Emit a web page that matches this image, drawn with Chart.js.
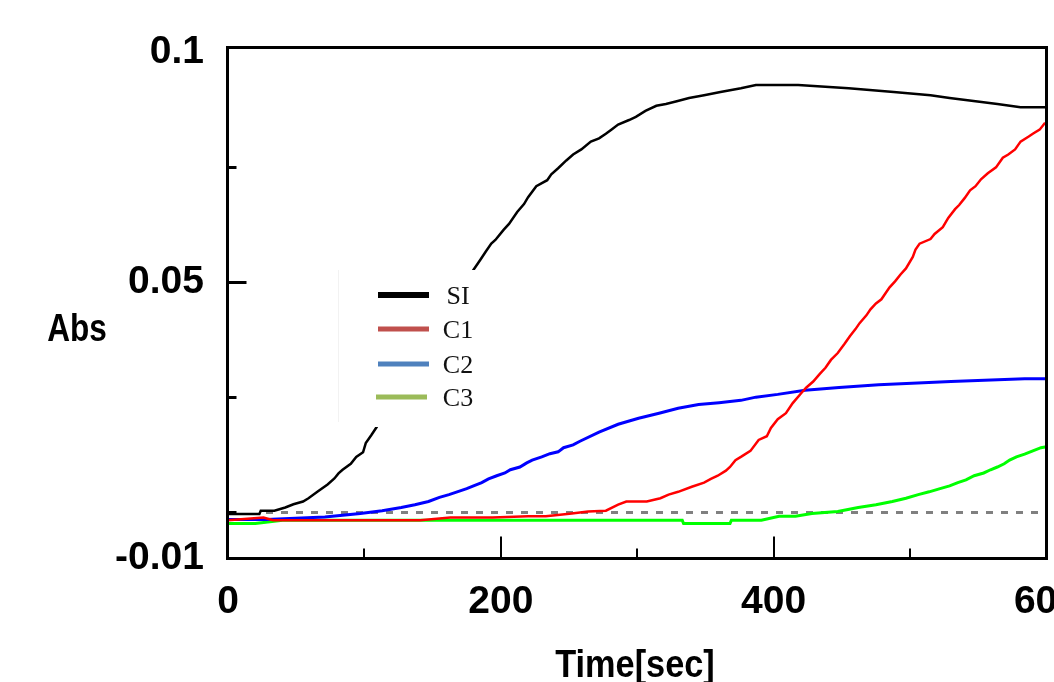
<!DOCTYPE html>
<html>
<head>
<meta charset="utf-8">
<script src="https://cdn.jsdelivr.net/npm/chart.js@4.4.0/dist/chart.umd.min.js"></script>
<style>
  html, body { margin: 0; padding: 0; background: #fff; overflow: hidden; }
  #wrap { width: 1100px; height: 682px; }
</style>
</head>
<body>
<div id="wrap"><canvas id="absChart" width="1100" height="682"></canvas></div>
<script>
// readings taken off the plot: time in sec, absorbance
const siTime = [0, 23, 24, 34, 42, 48, 55, 59, 66, 73, 78, 81, 84, 90, 94, 99, 101, 105, 109, 179,
  185, 189, 193, 196, 202, 206, 212, 217, 220, 226, 234, 237, 242, 248, 253, 259, 266, 272, 277, 281,
  286, 294, 299, 306, 314, 321, 329, 338, 349, 361, 376, 387, 418, 455, 488, 515, 529, 548, 564, 581, 600];
const siAbs = [-0.0004, -0.0004, 0.0003, 0.0003, 0.001, 0.0017, 0.0023, 0.003, 0.0045, 0.006, 0.0073, 0.0084, 0.0092, 0.0105, 0.012, 0.013, 0.015, 0.0167, 0.0185, 0.0523,
  0.0549, 0.0567, 0.0584, 0.0592, 0.0614, 0.0627, 0.0653, 0.067, 0.0685, 0.0709, 0.0722, 0.0735, 0.0748, 0.0765, 0.0778, 0.0789, 0.0806, 0.0813, 0.0823, 0.0832,
  0.0843, 0.0853, 0.086, 0.0873, 0.0884, 0.0888, 0.0894, 0.0901, 0.0907, 0.0914, 0.0922, 0.0929, 0.0929, 0.0922, 0.0914, 0.0907, 0.0901, 0.0894, 0.0888, 0.0881, 0.0881];

const c1Time = [0, 26, 33, 100, 141, 163, 194, 220, 233, 252, 264, 277, 286, 292, 307, 317, 323, 330, 340, 349,
  354, 359, 365, 368, 372, 376, 383, 389, 395, 398, 403, 409, 414, 420, 424, 429, 434, 438, 442, 447,
  452, 456, 460, 463, 468, 471, 475, 479, 482, 485, 489, 493, 497, 502, 504, 507, 515, 518, 524, 528,
  533, 536, 540, 544, 548, 552, 557, 563, 568, 572, 577, 581, 587, 590, 595, 599];
const c1Abs = [-0.0018, -0.0012, -0.0018, -0.0018, -0.0018, -0.0012, -0.0012, -0.0009, -0.0009, -0.0003, 0.0001, 0.0003, 0.0016, 0.0023, 0.0023, 0.003, 0.0038, 0.0044, 0.0055, 0.0064,
  0.0072, 0.0079, 0.009, 0.0098, 0.0113, 0.012, 0.0133, 0.0157, 0.0165, 0.0183, 0.0202, 0.0215, 0.0237, 0.0258, 0.0271, 0.0284, 0.0301, 0.0314, 0.0331, 0.0346,
  0.0366, 0.0383, 0.0398, 0.0411, 0.0428, 0.0441, 0.0454, 0.0463, 0.0476, 0.0489, 0.0502, 0.0517, 0.053, 0.0555, 0.0571, 0.0584, 0.0594, 0.0605, 0.062, 0.064,
  0.0659, 0.0668, 0.0683, 0.07, 0.0709, 0.0724, 0.0737, 0.075, 0.0771, 0.0778, 0.0789, 0.0806, 0.0817, 0.0823, 0.0832, 0.0847];

const c2Time = [0, 28, 71, 97, 113, 127, 137, 147, 155, 162, 168, 175, 180, 186, 191, 197, 203, 207, 214, 219,
  223, 230, 236, 242, 246, 253, 258, 272, 286, 301, 316, 330, 345, 360, 376, 387, 403, 423, 448, 477, 530, 584, 600];
const c2Abs = [-0.0016, -0.0016, -0.0011, -0.0003, 0.0003, 0.001, 0.0016, 0.0023, 0.0032, 0.0038, 0.0044, 0.0051, 0.0057, 0.0064, 0.0072, 0.0079, 0.0085, 0.0092, 0.0098, 0.0107,
  0.0113, 0.012, 0.0127, 0.0131, 0.014, 0.0146, 0.0154, 0.0174, 0.0191, 0.0204, 0.0215, 0.0226, 0.0234, 0.0238, 0.0243, 0.025, 0.0256, 0.0265, 0.0271, 0.0277, 0.0284, 0.029, 0.029];

const c3Time = [0, 20, 40, 333, 334, 368, 369, 391, 404, 416, 428, 447, 462, 475, 487, 497, 506, 514, 522, 529,
  535, 541, 547, 554, 559, 564, 569, 573, 578, 584, 590, 596, 600];
const c3Abs = [-0.0025, -0.0025, -0.0018, -0.0018, -0.0025, -0.0025, -0.0018, -0.0018, -0.0009, -0.0009, -0.0003, 0.0001, 0.001, 0.0016, 0.0023, 0.003, 0.0038, 0.0044, 0.0051, 0.0057,
  0.0064, 0.007, 0.0079, 0.0085, 0.0092, 0.0098, 0.0105, 0.0113, 0.012, 0.0126, 0.0133, 0.014, 0.0142];

const seriesNames = ['SI', 'C1', 'C2', 'C3'];
const lineColors = ['#000000', '#ff0000', '#0000ff', '#00ff00'];
const legendColors = ['#000000', '#c0504d', '#4f81bd', '#9bbb59'];

const xTickValues = [0, 200, 400, 600];
const xTickLabels = ['0', '200', '400', '600'];
const xMajorMarks = [200, 400];
const xMinorMarks = [100, 300, 500];
const yTickValues = [-0.01, 0.05, 0.1];
const yTickLabels = ['-0.01', '0.05', '0.1'];
const yMajorMarks = [0.05];
const yMinorMarks = [0, 0.025, 0.075];
const zeroLine = 0;

const axisFont = { family: "'Liberation Sans', Arial, sans-serif", size: 39, weight: 'bold' };

const toPoints = (xs, ys) => xs.map((x, i) => ({ x: x, y: ys[i] }));

// narrow bold text, like the bitmap font of the original
function narrowText(ctx, text, cx, baseY, squeeze) {
  ctx.save();
  ctx.translate(cx, baseY);
  ctx.scale(squeeze, 1);
  ctx.fillText(text, 0, 0);
  ctx.restore();
}

const chartDecor = {
  id: 'chartDecor',
  beforeDatasetsDraw(chart) {
    const { ctx, chartArea, scales } = chart;
    const y0 = Math.round(scales.y.getPixelForValue(zeroLine)) + 0.5;
    ctx.save();
    ctx.strokeStyle = '#808080';
    ctx.lineWidth = 3;
    ctx.setLineDash([7, 8]);
    ctx.beginPath();
    ctx.moveTo(chartArea.left + 38, y0);
    ctx.lineTo(chartArea.right, y0);
    ctx.stroke();
    ctx.restore();
  },
  afterDatasetsDraw(chart) {
    // legend sits inside the plot on a white box
    const ctx = chart.ctx;
    ctx.save();
    ctx.fillStyle = '#ffffff';
    ctx.fillRect(338, 270, 154, 157);
    ctx.strokeStyle = '#f2f2f2';
    ctx.lineWidth = 1;
    ctx.beginPath();
    ctx.moveTo(338.5, 270);
    ctx.lineTo(338.5, 422);
    ctx.stroke();
    const rows = [295, 329, 364, 397];
    ctx.font = "26px 'Liberation Serif', 'Times New Roman', serif";
    ctx.textAlign = 'center';
    ctx.textBaseline = 'alphabetic';
    seriesNames.forEach((name, i) => {
      ctx.strokeStyle = legendColors[i];
      ctx.lineWidth = i === 0 ? 6 : 5;
      ctx.beginPath();
      ctx.moveTo(i === 3 ? 376 : 378, rows[i]);
      ctx.lineTo(i === 3 ? 427 : 429, rows[i]);
      ctx.stroke();
      ctx.fillStyle = '#111';
      ctx.fillText(name, 458, rows[i] + 9);
    });
    ctx.restore();
  },
  afterDraw(chart) {
    const { ctx, chartArea, scales } = chart;
    const left = Math.round(chartArea.left) - 0.5;
    const right = Math.round(chartArea.right) + 0.5;
    const top = Math.round(chartArea.top) + 0.5;
    const bottom = Math.round(chartArea.bottom) + 0.5;
    ctx.save();
    ctx.strokeStyle = '#000';
    ctx.lineWidth = 3;
    ctx.strokeRect(left, top, right - left, bottom - top);

    ctx.lineWidth = 2;
    ctx.beginPath();
    xMajorMarks.forEach(v => {
      const px = Math.round(scales.x.getPixelForValue(v));
      ctx.moveTo(px, bottom); ctx.lineTo(px, bottom - 22);
    });
    xMinorMarks.forEach(v => {
      const px = Math.round(scales.x.getPixelForValue(v));
      ctx.moveTo(px, bottom); ctx.lineTo(px, bottom - 10);
    });
    ctx.stroke();
    ctx.lineWidth = 3;
    ctx.beginPath();
    yMajorMarks.forEach(v => {
      const py = Math.round(scales.y.getPixelForValue(v)) + 0.5;
      ctx.moveTo(left, py); ctx.lineTo(left + 19, py);
    });
    yMinorMarks.forEach(v => {
      const py = Math.round(scales.y.getPixelForValue(v)) + 0.5;
      ctx.moveTo(left, py); ctx.lineTo(left + 9, py);
    });
    ctx.stroke();

    // axis titles
    ctx.fillStyle = '#000';
    ctx.font = `bold ${axisFont.size}px ${axisFont.family}`;
    ctx.textAlign = 'center';
    ctx.textBaseline = 'alphabetic';
    narrowText(ctx, 'Abs', 77, 341, 0.81);
    narrowText(ctx, 'Time[sec]', 635, 677, 0.88);
    ctx.restore();
  }
};

new Chart(document.getElementById('absChart').getContext('2d'), {
  type: 'line',
  data: {
    datasets: [
      { label: seriesNames[0], data: toPoints(siTime, siAbs), borderColor: lineColors[0], borderWidth: 2.5 },
      { label: seriesNames[1], data: toPoints(c1Time, c1Abs), borderColor: lineColors[1], borderWidth: 2.5 },
      { label: seriesNames[2], data: toPoints(c2Time, c2Abs), borderColor: lineColors[2], borderWidth: 3 },
      { label: seriesNames[3], data: toPoints(c3Time, c3Abs), borderColor: lineColors[3], borderWidth: 3 },
    ],
  },
  options: {
    responsive: false,
    animation: false,
    devicePixelRatio: 1,
    layout: { padding: { left: 0, right: 51, top: 44, bottom: 0 } },
    elements: { point: { radius: 0 }, line: { tension: 0, fill: false } },
    plugins: { legend: { display: false }, tooltip: { enabled: false } },
    scales: {
      x: {
        type: 'linear',
        min: 0,
        max: 600,
        grid: { display: false, drawTicks: false },
        border: { display: false },
        afterBuildTicks: (s) => { s.ticks = xTickValues.map(v => ({ value: v })); },
        afterFit: (s) => { s.height = 124; },
        ticks: {
          autoSkip: false,
          maxRotation: 0,
          padding: 21,
          color: '#000',
          font: axisFont,
          callback: (value, i) => xTickLabels[i],
        },
      },
      y: {
        min: -0.01,
        max: 0.1011,
        grid: { display: false, drawTicks: false },
        border: { display: false },
        afterBuildTicks: (s) => { s.ticks = yTickValues.map(v => ({ value: v })); },
        afterFit: (s) => { s.width = 228; },
        ticks: {
          autoSkip: false,
          padding: 24,
          color: '#000',
          font: axisFont,
          callback: (value, i) => yTickLabels[i],
        },
      },
    },
  },
  plugins: [chartDecor],
});
</script>
</body>
</html>
